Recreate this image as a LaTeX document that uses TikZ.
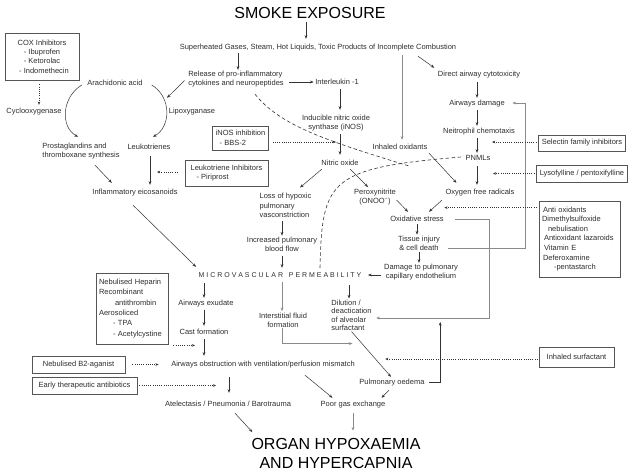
\documentclass[tikz,border=0pt]{standalone}
\usepackage{fontspec}
\setmainfont{Liberation Sans}
\usetikzlibrary{arrows.meta,calc}
\definecolor{txt}{HTML}{2E2E2E}
\definecolor{linec}{HTML}{333333}
\definecolor{grayc}{HTML}{8A8A8A}
\definecolor{boxc}{HTML}{555555}
\begin{document}
\begin{tikzpicture}[x=1pt,y=-1pt,
  every node/.style={font=\fontsize{7.5}{9.2}\selectfont, text=txt, inner sep=1.5pt},
  tx/.style={text height=5.5pt,text depth=1.5pt},
  ml/.style={align=left},
  mc/.style={align=center},
  bigt/.style={font=\fontsize{16}{19}\selectfont, text=black},
  ibox/.style={draw=boxc, line width=0.8pt, inner sep=3pt},
  arr/.style={draw=linec, line width=0.5pt, -{Stealth[length=3.6pt,width=2.8pt]}},
  garr/.style={draw=grayc, line width=1pt, -{Stealth[length=3.6pt,width=2.8pt]}},
  dotarr/.style={draw=linec, line width=0.7pt, dash pattern=on 0.8pt off 1.4pt, -{Stealth[length=3.2pt,width=2.6pt]}},
  dashln/.style={draw=linec, line width=0.6pt, dash pattern=on 3.5pt off 2.5pt}
]
\fill[white] (0,0) rectangle (636,474);
\useasboundingbox (0,0) rectangle (636,474);

% ---------- nodes ----------
\node[bigt] (title) at (310,13) {SMOKE EXPOSURE};
\node[tx] (sup) at (318,47) {Superheated Gases, Steam, Hot Liquids, Toxic Products of Incomplete Combustion};
\node[ibox, minimum width=74pt, minimum height=47pt, align=center, font=\fontsize{7.5}{9.4}\selectfont] (cox) at (42,56.5) {COX Inhibitors\\- Ibuprofen\\- Ketorolac\\\hspace*{4pt}- Indomethecin};
\node[tx] (cyc) at (34,111) {Cyclooxygenase};
\node[tx] (ara) at (115,83) {Arachidonic acid};
\node[tx] (lip) at (192,111) {Lipoxyganase};
\node[ml, font=\fontsize{7.5}{9}\selectfont] (pro) at (81,151.5) {Prostaglandins and\\thromboxane synthesis};
\node[tx] (leu) at (149,147) {Leukotrienes};
\node[ml, font=\fontsize{7.5}{9}\selectfont] (rel) at (236,79.5) {Release of pro-inflammatory\\cytokines and neuropeptides};
\node[tx] (il) at (337,82) {Interleukin -1};
\node[mc, font=\fontsize{7.5}{9}\selectfont] (inos) at (336,123.5) {Inducible nitric oxide\\synthase (iNOS)};
\node[ibox, minimum width=55pt, minimum height=24pt, align=left, font=\fontsize{7.5}{9.4}\selectfont] (inosb) at (240.5,138) {iNOS inhibition\\\hspace*{4pt}- BBS-2};
\node[tx] (no) at (340,163) {Nitric oxide};
\node[tx] (inh) at (400,147) {Inhaled oxidants};
\node[tx] (dac) at (479,74) {Direct airway cytotoxicity};
\node[tx] (ad) at (477,103) {Airways damage};
\node[tx] (nc) at (479,131) {Neitrophil chemotaxis};
\node[ibox, minimum width=86pt, minimum height=16pt] (sel) at (582,143) {Selectin family inhibitors};
\node[tx] (pnml) at (478,158) {PNMLs};
\node[tx] (ofr) at (480,192) {Oxygen free radicals};
\node[ibox, minimum width=86pt, minimum height=17pt] (lys) at (582,173.5) {Lysofylline / pentoxifylline};
\node[ibox, minimum width=83pt, minimum height=26pt, align=left, font=\fontsize{7.5}{9.4}\selectfont] (lib) at (226.5,173) {Leukotriene Inhibitors\\\hspace*{6pt}- Piriprost};
\node[tx] (eic) at (135,192) {Inflammatory eicosanoids};
\node[ml, font=\fontsize{7.5}{9.5}\selectfont] (loss) at (285.5,205.5) {Loss of hypoxic\\pulmonary\\vasconstriction};
\node[mc, font=\fontsize{7.5}{9.5}\selectfont] (per) at (375,197) {Peroxynitrite\\(ONOO\textsuperscript{−})};
\node[tx] (ox) at (417,219) {Oxidative stress};
\node[ibox, minimum height=76pt, text width=75pt, align=left, font=\fontsize{7.5}{9.6}\selectfont] (anti) at (579.5,239) {\hspace*{1pt}Anti oxidants\\Dimethylsulfoxide\\\hspace*{6pt}nebulisation\\\hspace*{2pt}Antioxidant lazaroids\\\hspace*{2pt}Vitamin E\\\hspace*{1pt}Deferoxamine\\\hspace*{12pt}-pentastarch};
\node[mc, font=\fontsize{7.5}{9}\selectfont] (ti) at (419,243.5) {Tissue injury\\\& cell death};
\node[mc, font=\fontsize{7.5}{9}\selectfont] (inc) at (282,244.5) {Increased pulmonary\\blood flow};
\node[mc, font=\fontsize{7.5}{9}\selectfont] (dam) at (421,272.5) {Damage to pulmonary\\capillary endothelium};
\node[tx, font=\fontsize{7}{8}\selectfont] (mic) at (280,275) {M I C R O V A S C U L A R \ \ P E R M E A B I L I T Y};
\node[ibox, minimum height=71pt, text width=66pt, align=left, font=\fontsize{7.5}{10.3}\selectfont] (hep) at (132,308.5) {Nebulised Heparin\\Recombinant\\\hspace*{16pt}antithrombin\\Aerosoliced\\\hspace*{14pt}- TPA\\\hspace*{14pt}- Acetylcystine};
\node[tx] (ae) at (206,303) {Airways exudate};
\node[mc, font=\fontsize{7.5}{8.8}\selectfont] (isf) at (283,320) {Interstitial fluid\\formation};
\node[ml, font=\fontsize{7.5}{8.4}\selectfont] (dil) at (351.5,315.5) {Dilution /\\deactication\\of alveolar\\surfactant};
\node[tx] (cf) at (204,332) {Cast formation};
\node[tx] (aob) at (263,364) {Airways obstruction with ventilation/perfusion mismatch};
\node[ibox, minimum width=93pt, minimum height=17pt] (b2) at (78.5,364.5) {Nebulised B2-aganist};
\node[ibox, minimum width=105pt, minimum height=17pt] (eta) at (84.5,385.5) {Early therapeutic antibiotics};
\node[ibox, minimum width=75pt, minimum height=20pt] (isu) at (576.5,357) {Inhaled surfactant};
\node[tx] (po) at (392,382) {Pulmonary oedema};
\node[tx] (atel) at (228,404) {Atelectasis / Pneumonia / Barotrauma};
\node[tx] (pge) at (353,404) {Poor gas exchange};
\node[bigt, align=center] (org) at (336,453.5) {ORGAN HYPOXAEMIA\\AND HYPERCAPNIA};

% ---------- connectors ----------
\draw[arr] ($(title.south)+(-4,2)$) -- ($(title.south |- sup.north)+(-4,-3)$);
\draw[arr] ($(sup.south -| rel.north)+(2,1)$) -- ($(rel.north)+(2,0)$);
\draw[garr] ($(sup.south -| inh.north)+(2,3)$) -- ($(inh.north)+(2,-2)$);
\draw[arr] ($(sup.south)+(100,4)$) -- ($(dac.north west)+(-2,-1)$);
\draw[arr] ($(rel.west)+(-2,1)$) -- ($(lip.north)+(-25,-8)$);
\draw[arr] ($(il.west -| rel.east)+(4,0)$) -- (il.west);
\draw[arr] ($(il.south)+(3,2)$) -- ($(il.south |- inos.north)+(3,-4)$);
\draw[arr] ($(inos.south)+(4,1)$) -- ($(inos.south |- no.north)+(4,-3)$);
% right column
\draw[arr] ($(dac.south -| ad.north)+(0,3)$) -- (ad.north);
\draw[arr] ($(ad.south)+(0,2)$) -- (ad.south |- nc.north);
\draw[arr] ($(ad.south |- nc.south)+(0,2)$) -- (ad.south |- pnml.north);
\draw[arr] ($(ad.south |- pnml.south)+(0,3)$) -- ($(ad.south |- ofr.north)+(0,-2)$);
\draw[arr] ($(inh.south east)+(0,1)$) -- ($(ofr.north west)+(12.5,-4)$);
\draw[arr] ($(no.south west)+(2,1)$) -- ($(loss.north east)+(-13,-4)$);
\draw[arr] ($(no.south east)+(-10,1)$) -- ($(per.north)+(-7,0)$);
\draw[arr] ($(per.east)+(-1,3)$) -- ($(ox.north)+(-9,-2)$);
\draw[arr] ($(ofr.south west)+(-2,3)$) -- ($(ox.north)+(12,-2)$);
\draw[arr] (ox.south) -- (ox.south |- ti.north);
\draw[arr] (ti.south) -- (ti.south |- dam.north);
\draw[arr] ($(dam.west |- mic.east)+(-1,0)$) -- ($(mic.east)+(5,0)$);
\draw[garr] ($(ox.east)+(10,0)$) -- ++(34,0) |- ($(dil.east)+(3,2.5)$);
\draw[garr] ($(ti.east)+(6,4.5)$) -- ++(78,0) |- ($(ad.east)+(6,0)$);
% left part
\draw[dotarr] ($(cox.south)+(-3,4)$) -- ($(cox.south |- cyc.north)+(-3,-1)$);
\draw[arr] ($(ara.west)+(-4,2)$) .. controls +(-20,12) and +(-18,-10) .. ($(pro.north)+(-3,-5)$);
\draw[arr] ($(ara.east)+(7.5,2)$) .. controls +(20,12) and +(18,-10) .. ($(leu.north)+(4,-5)$);
\draw[dotarr] ($(inosb.east)+(4,4)$) -- ($(inosb.east -| inos.south)+(0,4)$);
\draw[dotarr] ($(lib.west)+(-7,-1)$) -- ($(lib.west -| leu.south)+(8,-1)$);
\draw[arr] ($(leu.south)+(1,4)$) -- ($(leu.south |- eic.north)+(1,-2)$);
\draw[arr] ($(pro.south)+(14,4)$) -- ($(eic.north west)+(21,-4)$);
\draw[arr] ($(eic.south)+(-2,8)$) -- ($(mic.north west)+(-1,-3)$);
\draw[arr] ($(loss.south -| inc.north)+(0,2)$) -- (inc.north);
\draw[arr] ($(inc.south)+(0,3)$) -- ($(inc.south |- mic.north)+(0,-2)$);
% inhibitors on the right
\draw[dotarr] ($(sel.west)+(-2,-1)$) -- ($(sel.west -| ad.south)+(15,-1)$);
\draw[dotarr] ($(lys.west)+(-2,0)$) -- ($(lys.west -| ad.south)+(16,0)$);
\draw[dotarr] ($(anti.north west)+(-2,7)$) -- ($(anti.north west -| ox.east)+(-1,7)$);
% lower part
\draw[arr] ($(mic.south -| ae.north)+(-2,3)$) -- ($(ae.north)+(-2,0)$);
\draw[garr] ($(mic.south -| isf.north)+(-1,2)$) -- ($(isf.north)+(-1,0)$);
\draw[arr] ($(mic.south -| dil.north)+(-2.5,5)$) -- ($(dil.north)+(-2.5,0)$);
\draw[arr] ($(ae.south -| cf.north)+(0,2)$) -- ($(cf.north)+(0,-1)$);
\draw[arr] ($(cf.south)+(0,2)$) -- ($(cf.south |- aob.north)+(0,-3)$);
\draw[dotarr] ($(hep.south east)+(5,1)$) -- ($(hep.south east -| cf.south)+(-9,1)$);
\draw[dotarr] ($(b2.east)+(7,0)$) -- ($(b2.east -| aob.west)+(-11,0)$);
\draw[dotarr] ($(eta.east)+(2,0)$) -- ($(eta.east -| atel.north)+(-12,0)$);
\draw[arr] ($(aob.south -| atel.north)+(1,8)$) -- ($(atel.north)+(1,-6)$);
\draw[arr] ($(atel.south)+(7,4)$) -- ($(org.north west)+(2.5,-4.5)$);
\draw[arr] ($(aob.south)+(42,6)$) -- ($(pge.north west)+(13.5,-1)$);
\draw[garr] ($(isf.south)+(-1,-1)$) |- ($(dil.south)+(1,11)$);
\draw[arr] ($(dil.south)+(0,-1)$) -- ($(po.north)+(-1,0)$);
\draw[arr] ($(po.east)+(3,0)$) -- ++(11,0) -- ++(0,-60);
\draw[dotarr] ($(isu.west)+(-1,2)$) -- ($(isu.west -| dil.east)+(12,2)$);
\draw[arr] ($(po.south)+(-3,3)$) -- ($(pge.north east)+(-5.5,-1)$);
\draw[garr] ($(pge.south)+(0,4)$) -- ($(pge.south |- org.north)+(0,-6)$);
% dashed curves
\coordinate (d1end) at ($(pnml.west)+(-55,8)$);
\draw[dashln] ($(rel.south)+(19,5)$) .. controls +(25,31) and +(-85,-26) .. (d1end);
\draw[dashln] ($(pnml.west)+(-3,-1)$) .. controls +(-132,11) and +(2,-88) .. ($(mic.north)+(40,-2)$);
\end{tikzpicture}
\end{document}
